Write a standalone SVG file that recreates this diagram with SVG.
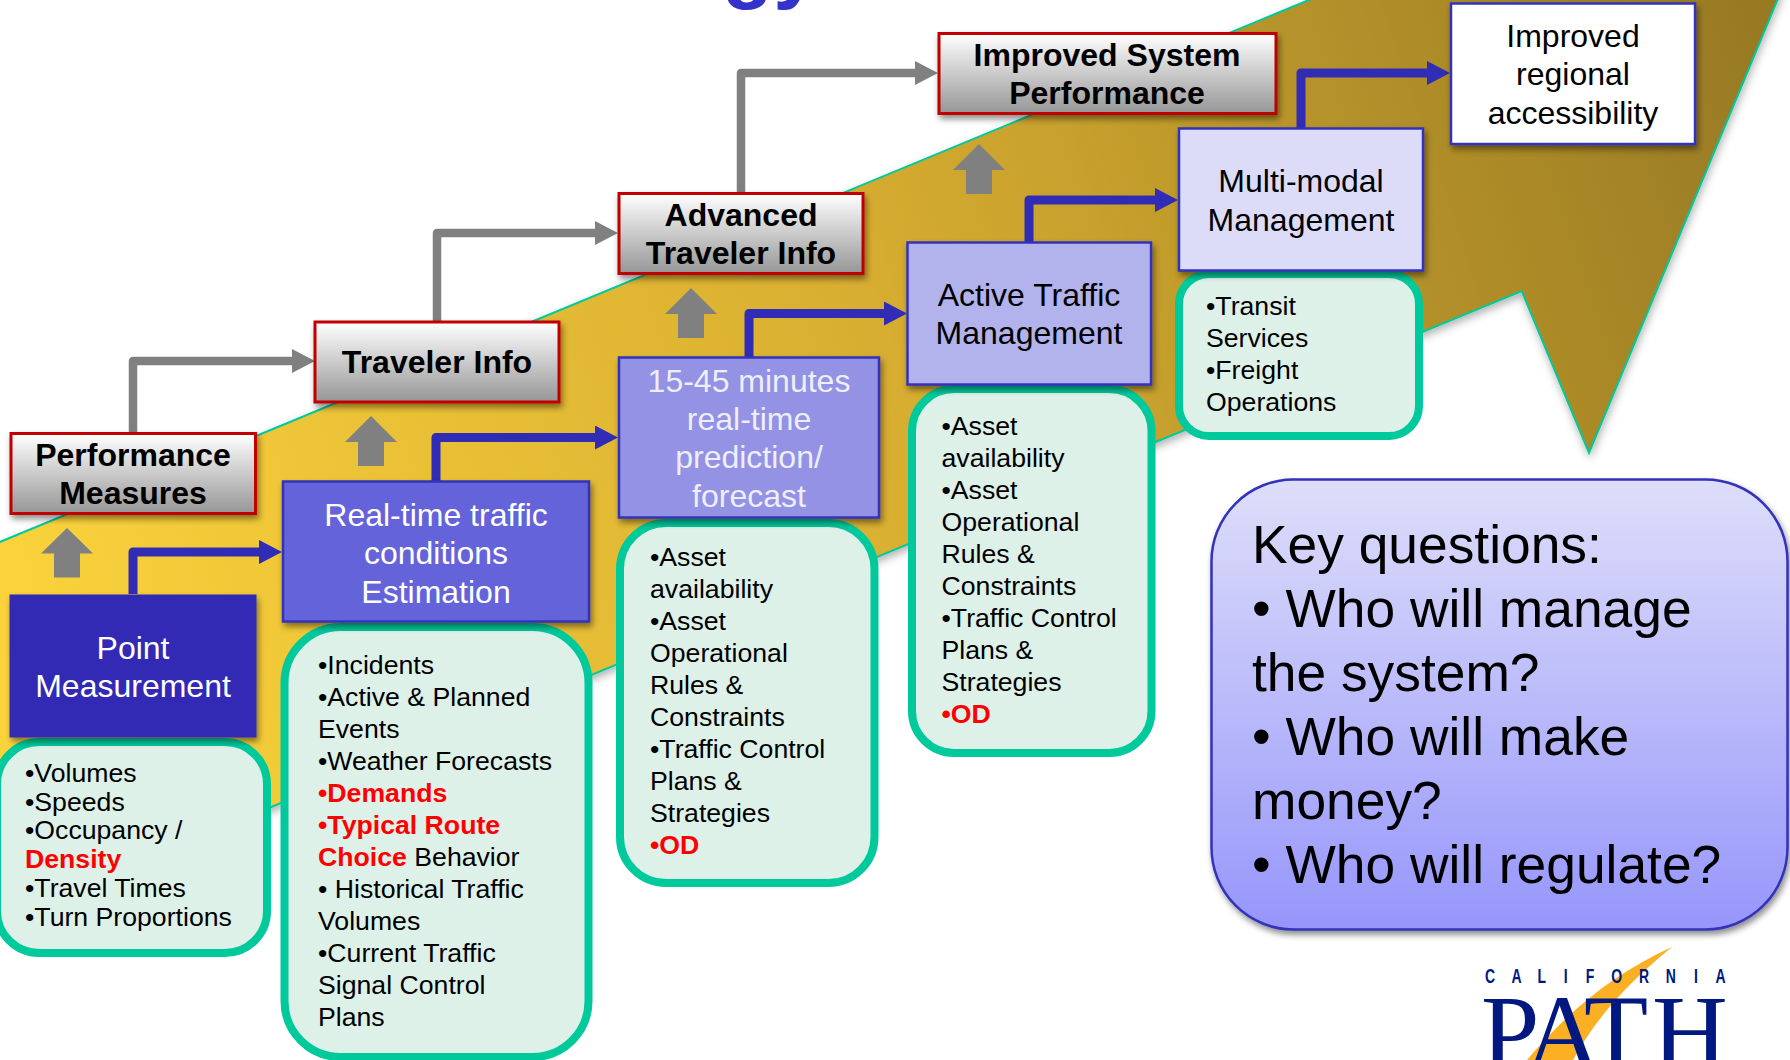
<svg xmlns="http://www.w3.org/2000/svg" width="1790" height="1060" viewBox="0 0 1790 1060">
<style>
text{font-family:"Liberation Sans",Arial,sans-serif}
.c{text-anchor:middle}
.big{font-size:32px}
.bold{font-size:32px;font-weight:700;fill:#000}
.w{fill:#fff}
.k{fill:#000}
.li{font-size:26.67px;fill:#000}
.red{fill:#f00;font-weight:700}
.box{stroke:#3333bb;stroke-width:2.5;filter:url(#sh)}
.perf{fill:url(#perf);stroke:#c00000;stroke-width:3;filter:url(#sh)}
.list{fill:#def1e9;stroke:#00c99b;stroke-width:8}
.gc{fill:none;stroke:#808080;stroke-width:8.500;stroke-linejoin:round;marker-end:url(#gh)}
.bc{fill:none;stroke:#312cb5;stroke-width:9;stroke-linejoin:round;marker-end:url(#bh)}
.up{fill:#808080}
</style>
<defs>
<linearGradient id="gold" gradientUnits="userSpaceOnUse" x1="0" y1="700" x2="1780" y2="100">
<stop offset="0" stop-color="#fbd43c"/><stop offset="0.5" stop-color="#d8ae30"/><stop offset="1" stop-color="#987a24"/>
</linearGradient>
<linearGradient id="perf" x1="0" y1="0" x2="0" y2="1">
<stop offset="0" stop-color="#ffffff"/><stop offset="1" stop-color="#969696"/>
</linearGradient>
<linearGradient id="key" x1="0" y1="0" x2="0" y2="1">
<stop offset="0" stop-color="#dedefa"/><stop offset="1" stop-color="#9696fb"/>
</linearGradient>
<filter id="sh" x="-10%" y="-10%" width="125%" height="125%"><feDropShadow dx="2" dy="4" stdDeviation="3" flood-color="#000" flood-opacity="0.45"/></filter>
<filter id="sa" x="-5%" y="-5%" width="110%" height="110%"><feDropShadow dx="1" dy="4" stdDeviation="4" flood-color="#000" flood-opacity="0.3"/></filter>
<marker id="gh" markerUnits="userSpaceOnUse" markerWidth="23" markerHeight="24" refX="0" refY="12" orient="auto"><path d="M0,0L23,12L0,24z" fill="#808080"/></marker>
<marker id="bh" markerUnits="userSpaceOnUse" markerWidth="23" markerHeight="24" refX="0" refY="12" orient="auto"><path d="M0,0L23,12L0,24z" fill="#312cb5"/></marker>
</defs>

<text x="722" y="-7" font-size="84" font-weight="700" fill="#3333cc">gy</text>

<g id="stair-arrow">
<path d="M-5,544L1333,-10L1781.600,-10L1589,453L1521.700,291L-5,921z" fill="url(#gold)" stroke="#00c99b" stroke-width="2" filter="url(#sa)"/>
</g>

<g id="connectors">
<path class="gc" d="M133,433V361H292"/>
<path class="gc" d="M437,322V233H595"/>
<path class="gc" d="M741,193V73H915"/>
<path class="bc" d="M133,594V552H259"/>
<path class="bc" d="M436,481V437.500H595"/>
<path class="bc" d="M749,357V313.500H884"/>
<path class="bc" d="M1029,242V200H1155"/>
<path class="bc" d="M1301,128V73H1427"/>
<path class="up" d="M67,528L93,553.500H80V577.500H54V553.500H41z"/>
<path class="up" d="M371,416L397,442H384V466H358V442H345z"/>
<path class="up" d="M691,288L717,314H704V338H678V314H665z"/>
<path class="up" d="M979,144L1005,170H992V194H966V170H953z"/>
</g>

<g id="list-1">
<rect class="list" x="-3" y="742" width="270" height="211" rx="42"/>
<text class="li"><tspan x="25" y="782">•Volumes</tspan><tspan x="25" y="811">•Speeds</tspan><tspan x="25" y="839">•Occupancy /</tspan><tspan x="25" y="868" class="red">Density</tspan><tspan x="25" y="897">•Travel Times</tspan><tspan x="25" y="926">•Turn Proportions</tspan></text>
</g>
<g id="list-2">
<rect class="list" x="284.500" y="627" width="304" height="430" rx="56"/>
<text class="li"><tspan x="318" y="674">•Incidents</tspan><tspan x="318" y="706">•Active &amp; Planned</tspan><tspan x="318" y="738">Events</tspan><tspan x="318" y="770">•Weather Forecasts</tspan><tspan x="318" y="802" class="red">•Demands</tspan><tspan x="318" y="834" class="red">•Typical Route</tspan><tspan x="318" y="866"><tspan class="red">Choice </tspan>Behavior</tspan><tspan x="318" y="898">• Historical Traffic</tspan><tspan x="318" y="930">Volumes</tspan><tspan x="318" y="962">•Current Traffic</tspan><tspan x="318" y="994">Signal Control</tspan><tspan x="318" y="1026">Plans</tspan></text>
</g>
<g id="list-3">
<rect class="list" x="620" y="523" width="254.500" height="360" rx="46"/>
<text class="li"><tspan x="650" y="565.500">•Asset</tspan><tspan x="650" y="597.500">availability</tspan><tspan x="650" y="629.500">•Asset</tspan><tspan x="650" y="661.500">Operational</tspan><tspan x="650" y="693.500">Rules &amp;</tspan><tspan x="650" y="725.500">Constraints</tspan><tspan x="650" y="757.500">•Traffic Control</tspan><tspan x="650" y="789.500">Plans &amp;</tspan><tspan x="650" y="821.500">Strategies</tspan><tspan x="650" y="853.500" class="red">•OD</tspan></text>
</g>
<g id="list-4">
<rect class="list" x="912" y="389" width="239.500" height="364" rx="42"/>
<text class="li"><tspan x="941.500" y="434.500">•Asset</tspan><tspan x="941.500" y="466.500">availability</tspan><tspan x="941.500" y="498.500">•Asset</tspan><tspan x="941.500" y="530.500">Operational</tspan><tspan x="941.500" y="562.500">Rules &amp;</tspan><tspan x="941.500" y="594.500">Constraints</tspan><tspan x="941.500" y="626.500">•Traffic Control</tspan><tspan x="941.500" y="658.500">Plans &amp;</tspan><tspan x="941.500" y="690.500">Strategies</tspan><tspan x="941.500" y="722.500" class="red">•OD</tspan></text>
</g>
<g id="list-5">
<rect class="list" x="1179" y="274" width="240" height="162" rx="30"/>
<text class="li"><tspan x="1206" y="314.500">•Transit</tspan><tspan x="1206" y="346.500">Services</tspan><tspan x="1206" y="378.500">•Freight</tspan><tspan x="1206" y="410.500">Operations</tspan></text>
</g>

<g id="performance-measures">
<rect class="perf" x="11" y="433.500" width="244.500" height="80"/>
<text class="bold c"><tspan x="133" y="466">Performance</tspan><tspan x="133" y="504">Measures</tspan></text>
</g>
<g id="traveler-info">
<rect class="perf" x="315" y="322" width="244" height="80"/>
<text class="bold c" x="437" y="373">Traveler Info</text>
</g>
<g id="advanced-traveler-info">
<rect class="perf" x="619" y="193.500" width="244" height="80"/>
<text class="bold c"><tspan x="741" y="226">Advanced</tspan><tspan x="741" y="264">Traveler Info</tspan></text>
</g>
<g id="improved-system-performance">
<rect class="perf" x="939" y="33.500" width="337" height="80"/>
<text class="bold c"><tspan x="1107" y="66">Improved System</tspan><tspan x="1107" y="104">Performance</tspan></text>
</g>

<g id="point-measurement">
<rect x="10" y="595" width="246" height="142" fill="#312cb5" stroke="#312cb5" stroke-width="1" filter="url(#sh)"/>
<text class="big w c"><tspan x="133" y="659">Point</tspan><tspan x="133" y="697">Measurement</tspan></text>
</g>
<g id="realtime-estimation">
<rect class="box" x="283" y="481.500" width="306" height="140" fill="#6563da"/>
<text class="big w c"><tspan x="436" y="526">Real-time traffic</tspan><tspan x="436" y="564">conditions</tspan><tspan x="436" y="603">Estimation</tspan></text>
</g>
<g id="prediction">
<rect class="box" x="619" y="357.500" width="260" height="160" fill="#9392e4"/>
<text class="big c" fill="#eeeefc"><tspan x="749" y="392">15-45 minutes</tspan><tspan x="749" y="430">real-time</tspan><tspan x="749" y="468">prediction/</tspan><tspan x="749" y="507">forecast</tspan></text>
</g>
<g id="active-traffic-management">
<rect class="box" x="907.500" y="242.500" width="243.500" height="142" fill="#b2b2ec"/>
<text class="big k c"><tspan x="1029" y="306">Active Traffic</tspan><tspan x="1029" y="344">Management</tspan></text>
</g>
<g id="multi-modal-management">
<rect class="box" x="1179" y="128.500" width="244" height="142" fill="#dcdcf8"/>
<text class="big k c"><tspan x="1301" y="192">Multi-modal</tspan><tspan x="1301" y="231">Management</tspan></text>
</g>
<g id="improved-regional-accessibility">
<rect class="box" x="1451" y="3.500" width="244" height="140.500" fill="#fff"/>
<text class="big k c"><tspan x="1573" y="47">Improved</tspan><tspan x="1573" y="85">regional</tspan><tspan x="1573" y="124">accessibility</tspan></text>
</g>

<g id="key-questions">
<rect x="1211.500" y="479.500" width="576" height="450" rx="82" fill="url(#key)" stroke="#3333bb" stroke-width="2.500" filter="url(#sh)"/>
<text font-size="53.33" fill="#000"><tspan x="1252" y="563">Key questions:</tspan><tspan x="1252" y="627">• Who will manage</tspan><tspan x="1252" y="691">the system?</tspan><tspan x="1252" y="755">• Who will make</tspan><tspan x="1252" y="819">money?</tspan><tspan x="1252" y="882.500">• Who will regulate?</tspan></text>
</g>

<g id="path-logo">
<path d="M1672,947C1610,975 1565,1015 1527,1060L1573,1060C1595,1020 1625,985 1672,947z" fill="#fbb023"/>
<text font-size="20" font-weight="700" fill="#00187f" text-anchor="middle" y="983" transform="scale(0.7 1)" x="2128.600 2166.700 2202.400 2236.700 2271.400 2309.600 2348.600 2386.700 2422.900 2458.100">CALIFORNIA</text>
<text font-size="105" fill="#00187f" y="1067.500" x="1481 1525 1584 1652" style="font-family:'Liberation Serif','Times New Roman',serif">PATH</text>
</g>
</svg>
